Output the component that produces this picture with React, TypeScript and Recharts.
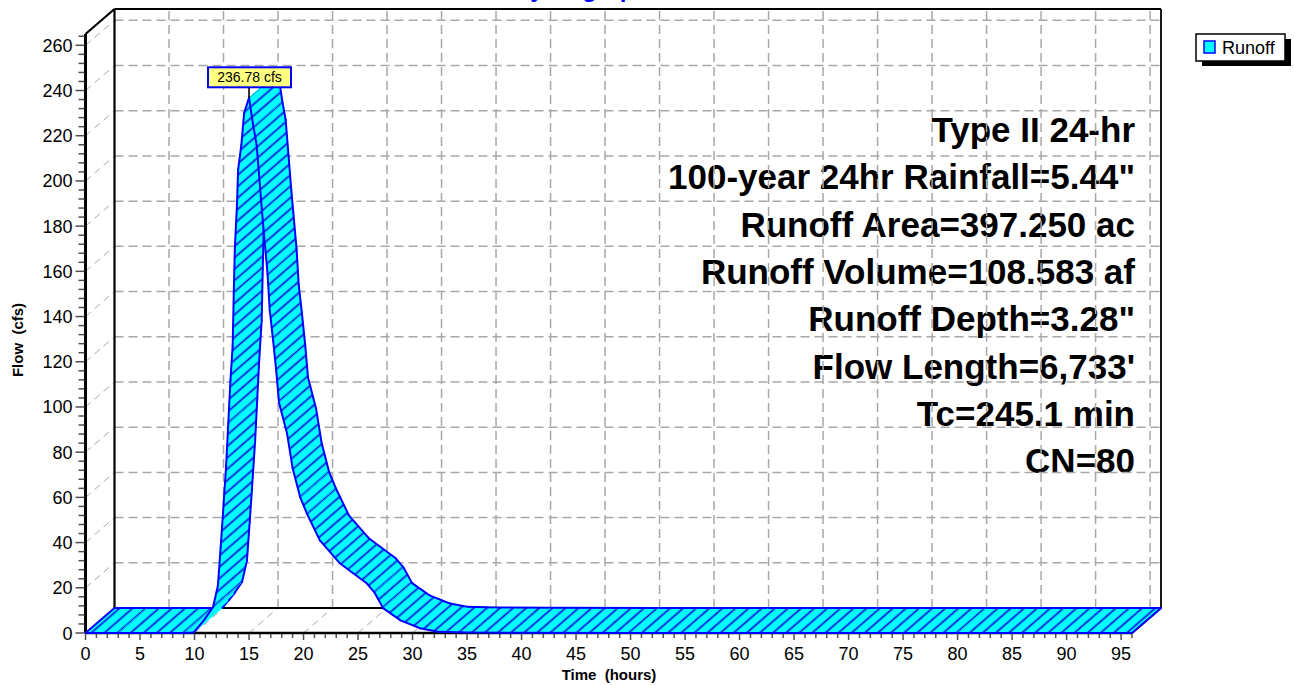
import React from 'react';
import { ComposedChart, Line, XAxis, YAxis, ReferenceLine, Customized } from 'recharts';

// ---------- data ----------
const hours = [
  0, 3, 6, 9, 9.9, 10.5, 11, 11.7, 12.15, 12.4, 12.6, 12.9, 13.1, 13.3, 13.5, 13.6, 13.7, 13.9, 14.0,
  14.3, 14.55, 15.0, 15.4, 15.7, 16.2, 16.4, 16.7, 16.9, 17.2, 17.5, 17.75, 18.5, 19.0, 19.7, 20.3,
  21.5, 23.3, 24.4, 25.8, 26.5, 27.3, 28.9, 30.7, 32.3, 35, 40, 50, 60, 70, 80, 90, 96,
];
const runoffCfs = [
  0, 0, 0, 0, 0.2, 3.5, 6.5, 11.5, 21, 38, 52, 74, 93, 112, 127, 150, 170, 190, 205,
  216, 230, 236.78, 224, 216, 186, 175, 159, 143, 130, 116, 102, 88, 73, 60, 53,
  41, 31, 27, 22, 18, 11, 5.6, 2.1, 0.6, 0.2, 0.1, 0, 0, 0, 0, 0, 0,
];
const seriesName = 'Runoff';
const peakLabel = '236.78 cfs';
const chartTitle = 'Hydrograph';
const xAxisTitle = 'Time  (hours)';
const yAxisTitle = 'Flow  (cfs)';
const infoLines = [
  'Type II 24-hr',
  '100-year 24hr Rainfall=5.44"',
  'Runoff Area=397.250 ac',
  'Runoff Volume=108.583 af',
  'Runoff Depth=3.28"',
  "Flow Length=6,733'",
  'Tc=245.1 min',
  'CN=80',
];
const xTickHours = Array.from({ length: 97 }, (_, i) => i); // minor every hour
const yTickCfs = Array.from({ length: 67 }, (_, i) => i * 4); // minor every 4 cfs
const xGridHours = Array.from({ length: 20 }, (_, i) => i * 5); // 0..95
const yGridCfs = Array.from({ length: 14 }, (_, i) => i * 20); // 0..260
const X_MAX = 96;
const Y_MAX = 265;

const data = hours.map((t, i) => ({ t, q: runoffCfs[i] }));
const peakIdx = runoffCfs.reduce((best, v, i) => (v > runoffCfs[best] ? i : best), 0);

// ---------- style ----------
const W = 1294;
const H = 685;
const DX = 29; // 3D depth offset (px)
const DY = 25;
const FONT = "'Liberation Sans', Arial, Helvetica, sans-serif";
const CYAN = '#00ffff';
const BLUE = '#0000ff';
const GRID = { stroke: '#a8a8a8', strokeWidth: 1.5, strokeDasharray: '9 5' };
const DIAG = { stroke: '#a8a8a8', strokeWidth: 1, strokeDasharray: '7 5' };
const FRAME = { stroke: '#000', strokeWidth: 2.2 };

const backShape = (style: any) => (p: any) => (
  <line x1={p.x1 + DX} y1={p.y1 - DY} x2={p.x2 + DX} y2={p.y2 - DY} {...style} />
);
const wallShape = (style: any) => (p: any) => {
  const x = Math.min(p.x1, p.x2);
  return <line x1={x} y1={p.y1} x2={x + DX} y2={p.y1 - DY} {...style} />;
};
const floorShape = (style: any) => (p: any) => {
  const y = Math.max(p.y1, p.y2);
  return <line x1={p.x1} y1={y} x2={p.x1 + DX} y2={y - DY} {...style} />;
};

const XTick = (p: any) => {
  const v = p.payload.value;
  const major = v % 5 === 0 && v <= 95;
  return (
    <g>
      <line x1={p.x} y1={p.y + 1} x2={p.x} y2={p.y + (major ? 7 : 5)} stroke="#505050" strokeWidth={1.5} />
      {major && (
        <text x={p.x} y={p.y + 27} textAnchor="middle" fontSize={18} fontFamily={FONT} fill="#000">
          {v}
        </text>
      )}
    </g>
  );
};

const YTick = (p: any) => {
  const v = p.payload.value;
  const major = v % 20 === 0;
  return (
    <g>
      <line x1={p.x - (major ? 10 : 7)} y1={p.y} x2={p.x - 1} y2={p.y} stroke="#505050" strokeWidth={1.5} />
      {major && (
        <text x={p.x - 13} y={p.y + 6.5} textAnchor="end" fontSize={18} fontFamily={FONT} fill="#000">
          {v}
        </text>
      )}
    </g>
  );
};

type Pt = { x: number; y: number };

function Ribbon({ pts, peak }: { pts: Pt[]; peak: number }) {
  const back = pts.map((p) => ({ x: p.x + DX, y: p.y - DY }));
  const segs: React.ReactNode[] = [];
  for (let i = 0; i < pts.length - 1; i++) {
    const f0 = pts[i];
    const f1 = pts[i + 1];
    const b0 = back[i];
    const b1 = back[i + 1];
    const poly = `${f0.x},${f0.y} ${f1.x},${f1.y} ${b1.x},${b1.y} ${b0.x},${b0.y}`;
    segs.push(
      <g key={`s${i}`}>
        <polygon points={poly} fill={CYAN} stroke={CYAN} strokeWidth={0.8} strokeLinejoin="round" />
        <polygon points={poly} fill="url(#runoffHatch)" />
        <line x1={f0.x} y1={f0.y} x2={f1.x} y2={f1.y} stroke={BLUE} strokeWidth={2} strokeLinecap="round" />
        <line x1={b0.x} y1={b0.y} x2={b1.x} y2={b1.y} stroke={BLUE} strokeWidth={2} strokeLinecap="round" />
      </g>
    );
  }
  const n = pts.length - 1;
  const pk = pts[peak];
  return (
    <g>
      <defs>
        <pattern id="runoffHatch" patternUnits="userSpaceOnUse" width={12} height={8.6} patternTransform="rotate(-41)">
          <line x1={-2} y1={4.3} x2={14} y2={4.3} stroke="#1010d8" strokeWidth={1.7} />
        </pattern>
      </defs>
      {segs}
      <line x1={pts[0].x} y1={pts[0].y} x2={back[0].x} y2={back[0].y} stroke={BLUE} strokeWidth={2} />
      <line x1={pts[n].x} y1={pts[n].y} x2={back[n].x} y2={back[n].y} stroke={BLUE} strokeWidth={2} />
      <line x1={pk.x} y1={pk.y} x2={pk.x} y2={pk.y - 11} stroke="#000" strokeWidth={1.6} />
      <rect x={pk.x - 41} y={pk.y - 30.5} width={83} height={20} fill="#ffff80" stroke={BLUE} strokeWidth={2} />
      <text x={pk.x + 0.5} y={pk.y - 15.5} textAnchor="middle" fontSize={14} fontFamily={FONT} fill="#000">
        {peakLabel}
      </text>
    </g>
  );
}

function makeRibbonDot(n: number, peak: number) {
  const collected: Pt[] = [];
  return (props: any) => {
    const { cx, cy, index } = props;
    collected[index] = { x: cx, y: cy };
    if (index !== n - 1) return <g key={`rd${index}`} />;
    const src: Pt[] =
      Array.isArray(props.points) && props.points.length === n
        ? props.points.map((p: any) => ({ x: p.x, y: p.y }))
        : collected.slice();
    return <Ribbon key="ribbon" pts={src} peak={peak} />;
  };
}

function Overlay() {
  return (
    <g fontFamily={FONT}>
      <text x={581} y={-3} textAnchor="middle" fontSize={24} fontWeight="bold" fill={BLUE}>
        {chartTitle}
      </text>
      {infoLines.map((s, i) => (
        <text
          key={s}
          x={1135}
          y={142 + i * 47.3}
          textAnchor="end"
          fontSize={35}
          fontWeight="bold"
          fill="#000"
        >
          {s}
        </text>
      ))}
      <text x={609} y={680} textAnchor="middle" fontSize={15} fontWeight="bold" fill="#000" style={{ whiteSpace: 'pre' }}>
        {xAxisTitle}
      </text>
      <text
        transform="translate(23,340) rotate(-90)"
        x={0}
        y={0}
        textAnchor="middle"
        fontSize={15}
        fontWeight="bold"
        fill="#000"
        style={{ whiteSpace: 'pre' }}
      >
        {yAxisTitle}
      </text>
      {/* legend */}
      <rect x={1202} y={39} width={89} height={27} fill="#000" />
      <rect x={1196} y={34} width={89} height={27} fill="#fff" stroke="#000" strokeWidth={1.5} />
      <rect x={1204} y={41} width={11} height={12} fill={CYAN} stroke={BLUE} strokeWidth={1.5} />
      <text x={1222} y={54} fontSize={18} fill="#000">
        {seriesName}
      </text>
    </g>
  );
}

export default function App() {
  const ribbonDot = makeRibbonDot(data.length, peakIdx);
  return (
    <div style={{ position: 'absolute', left: 0, top: 0, width: W, height: H, background: '#fff' }}>
      <ComposedChart width={W} height={H} data={data} margin={{ top: 34, right: 162, bottom: 0, left: 0 }}>
        <XAxis
          dataKey="t"
          type="number"
          domain={[0, X_MAX]}
          ticks={xTickHours}
          interval={0}
          tick={<XTick />}
          tickSize={0}
          tickMargin={0}
          tickLine={false}
          height={52}
          axisLine={{ stroke: '#000', strokeWidth: 2.5 }}
        />
        <YAxis
          type="number"
          domain={[0, Y_MAX]}
          ticks={yTickCfs}
          interval={0}
          tick={<YTick />}
          tickSize={0}
          tickMargin={0}
          tickLine={false}
          width={85.5}
          axisLine={{ stroke: '#000', strokeWidth: 3 }}
        />
        {/* left wall diagonals */}
        {yGridCfs.slice(1).map((v) => (
          <ReferenceLine key={`w${v}`} y={v} shape={wallShape(DIAG)} ifOverflow="visible" />
        ))}
        {/* floor diagonals */}
        {xGridHours.slice(1).map((v) => (
          <ReferenceLine key={`f${v}`} x={v} shape={floorShape(DIAG)} ifOverflow="visible" />
        ))}
        {/* back plane grid */}
        {yGridCfs.slice(1).map((v) => (
          <ReferenceLine key={`h${v}`} y={v} shape={backShape(GRID)} ifOverflow="visible" />
        ))}
        {xGridHours.slice(1).map((v) => (
          <ReferenceLine key={`v${v}`} x={v} shape={backShape(GRID)} ifOverflow="visible" />
        ))}
        {/* back plane frame */}
        <ReferenceLine y={0} shape={backShape(FRAME)} ifOverflow="visible" />
        <ReferenceLine y={Y_MAX} shape={backShape(FRAME)} ifOverflow="visible" />
        <ReferenceLine x={0} shape={backShape(FRAME)} ifOverflow="visible" />
        <ReferenceLine x={X_MAX} shape={backShape({ stroke: '#000', strokeWidth: 1.8 })} ifOverflow="visible" />
        <ReferenceLine y={Y_MAX} shape={wallShape(FRAME)} ifOverflow="visible" />
        <ReferenceLine x={X_MAX} shape={floorShape(FRAME)} ifOverflow="visible" />
        <Line
          dataKey="q"
          name={seriesName}
          type="linear"
          stroke="none"
          dot={ribbonDot}
          activeDot={false}
          isAnimationActive={false}
        />
        <Customized component={Overlay} />
      </ComposedChart>
    </div>
  );
}
